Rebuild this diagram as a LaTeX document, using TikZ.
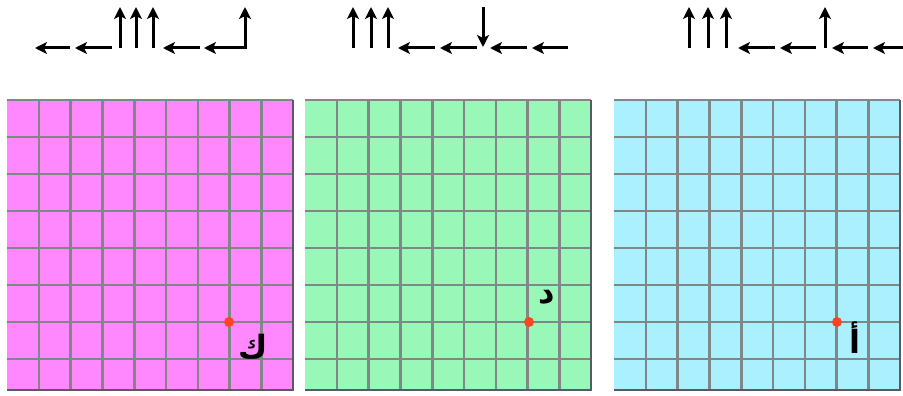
\documentclass[tikz,border=0pt]{standalone}
\usepackage{fontspec}
\newfontfamily\arabicfont[Script=Arabic]{DejaVu Sans}
\TeXXeTstate=1
\usetikzlibrary{arrows.meta}
\definecolor{GridPink}{HTML}{FF88FF}
\definecolor{GridGreen}{HTML}{99F7B8}
\definecolor{GridCyan}{HTML}{AAF0FF}
\definecolor{GridLine}{HTML}{808887}
\definecolor{EdgeShade}{HTML}{5A5A66}
\definecolor{DotRed}{HTML}{FF4422}

\begin{document}
\begin{tikzpicture}[x=1pt,y=-1pt,>={Stealth[length=12pt,width=12pt,inset=3pt]}]
\tikzset{
  move/.style={line width=3pt,->},
  gridline/.style={draw=GridLine,line width=2.6pt},
  point/.style={circle,fill=DotRed,inner sep=0pt,minimum size=10pt},
  letter/.style={font=\arabicfont\bfseries\fontsize{32}{34}\selectfont,inner sep=0pt}
}
\useasboundingbox (0,0) rectangle (903,396);

% the three grids
\foreach \x/\col in {7/GridPink,305/GridGreen,614/GridCyan}{
  \fill[\col] (\x,100) rectangle ++(286,290);
  \foreach \i in {1,...,8} \draw[gridline] (\x+\i*31.8,100) -- ++(0,290);
  \foreach \j in {0,...,7} \draw[gridline] (\x,100+\j*37) -- ++(286,0);
  \draw[EdgeShade,line width=2.6pt] (\x,390) -- ++(286,0) -- ++(0,-290);
}

% moves above the grids
\foreach \a/\b in {70/35,112/75,200/163,246.5/204,435/398,477/440,527/490,568/532,775/738,816/780,868/832,905/873}
  \draw[move] (\a,48) -- (\b,48);
\foreach \a in {120,136,153,245,353,371,388,689,708,726,825}
  \draw[move] (\a,48) -- (\a,7);
\draw[move] (483,7) -- (483,47);

% points and letters
\node[point] (k) at (229,322) {};
\node[point] (d) at (529,322) {};
\node[point] (a) at (837,322) {};
\node[letter] (kl) at (253,347) {\beginR ك\endR};
\node[letter] (dl) at (547,297) {\beginR د\endR};
\node[letter] (al) at (855,338) {\beginR أ\endR};
\end{tikzpicture}
\end{document}
